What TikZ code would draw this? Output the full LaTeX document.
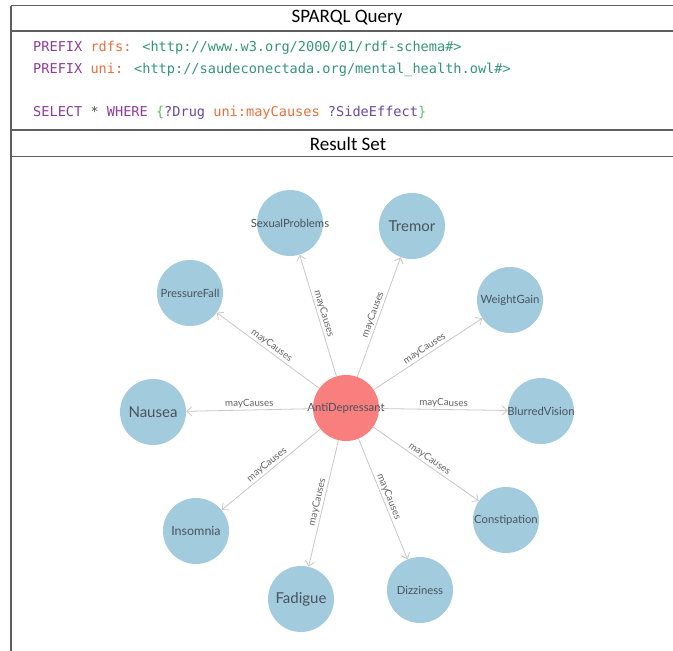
\documentclass[tikz,border=0pt]{standalone}
\usepackage{fontspec}
\setmainfont{Lato}
\newfontfamily\hdrfont{Carlito}
\newfontfamily\codefont{DejaVu Sans Mono}
\usetikzlibrary{arrows.meta}
\definecolor{kwpurple}{RGB}{140,60,150}
\definecolor{pforange}{RGB}{232,112,62}
\definecolor{urlgreen}{RGB}{52,150,118}
\definecolor{bracegreen}{RGB}{95,190,95}
\definecolor{varpurple}{RGB}{105,72,165}
\definecolor{stargray}{RGB}{80,80,80}
\definecolor{framegray}{RGB}{95,95,95}
\definecolor{nodeblue}{RGB}{163,203,222}
\definecolor{nodered}{RGB}{249,127,127}
\definecolor{nodetext}{RGB}{72,82,92}
\definecolor{edgegray}{RGB}{200,200,200}
\definecolor{labelgray}{RGB}{100,100,100}
\newcommand{\ctxt}[1]{\makebox[0pt][c]{#1}}
\tikzset{
  frameline/.style={draw=framegray, line width=1.3pt},
  hdrtext/.style={font=\hdrfont\fontsize{19}{22}\selectfont, text=black, inner sep=0pt},
  codeline/.style={font=\codefont\fontsize{13.6}{16}\selectfont, anchor=base west, inner sep=0pt},
  fx/.style={circle, fill=nodeblue, minimum size=66pt, inner sep=0pt, text=nodetext, font=\fontsize{11.3}{13}\selectfont},
  bigfx/.style={fx, font=\fontsize{15}{18}\selectfont},
  drug/.style={fx, fill=nodered},
  edge/.style={draw=edgegray, line width=0.8pt, -{Straight Barb[length=5pt,width=9pt]}},
  lbl/.style={midway, above, sloped, inner sep=1.5pt, text=labelgray, font=\fontsize{9.8}{11}\selectfont}
}
\begin{document}
\begin{tikzpicture}[x=1pt,y=-1pt]
\useasboundingbox (0,0) rectangle (673,651);
\fill[white] (0,0) rectangle (673,651);
% frame
\draw[frameline] (11,5.5) -- (673,5.5);
\draw[frameline] (11,31) -- (673,31);
\draw[frameline] (11,130) -- (673,130);
\draw[frameline] (11,156.5) -- (673,156.5);
\draw[frameline] (11,5.5) -- (11,651);
% headers
\node[hdrtext] (hq) at (347,18) {SPARQL Query};
\node[hdrtext] (hr) at (348,143.5) {Result Set};
% code
\node[codeline] (c1) at (33,51) {\textcolor{kwpurple}{PREFIX} \textcolor{pforange}{rdfs:} \textcolor{urlgreen}{<http://www.w3.org/2000/01/rdf-schema\#>}};
\node[codeline] (c2) at (33,73) {\textcolor{kwpurple}{PREFIX} \textcolor{pforange}{uni:} \textcolor{urlgreen}{<http://saudeconectada.org/mental\_health.owl\#>}};
\node[codeline] (c3) at (33,116) {\textcolor{kwpurple}{SELECT} \textcolor{stargray}{*} \textcolor{kwpurple}{WHERE} \textcolor{bracegreen}{\{}\textcolor{varpurple}{?Drug} \textcolor{pforange}{uni:mayCauses} \textcolor{varpurple}{?SideEffect}\textcolor{bracegreen}{\}}};
% graph nodes
\node[drug] (ad) at (346,408) {\ctxt{AntiDepressant}};
\node[fx] (sp) at (290,223) {\ctxt{SexualProblems}};
\node[bigfx] (tr) at (412,226) {\ctxt{Tremor}};
\node[fx] (pf) at (190,293) {\ctxt{PressureFall}};
\node[fx] (wg) at (510,300) {\ctxt{WeightGain}};
\node[bigfx] (na) at (153,412) {\ctxt{Nausea}};
\node[fx] (bv) at (541,411) {\ctxt{BlurredVision}};
\node[fx, font=\fontsize{12.5}{15}\selectfont] (in) at (196,531) {\ctxt{Insomnia}};
\node[fx] (co) at (506,520) {\ctxt{Constipation}};
\node[bigfx] (fa) at (301,599) {\ctxt{Fadigue}};
\node[fx] (di) at (420,590) {\ctxt{Dizziness}};
% edges
\draw[edge] (ad) -- node[lbl] {mayCauses} (sp);
\draw[edge] (ad) -- node[lbl] {mayCauses} (tr);
\draw[edge] (ad) -- node[lbl] {mayCauses} (pf);
\draw[edge] (ad) -- node[lbl] {mayCauses} (wg);
\draw[edge] (ad) -- node[lbl] {mayCauses} (na);
\draw[edge] (ad) -- node[lbl] {mayCauses} (bv);
\draw[edge] (ad) -- node[lbl] {mayCauses} (in);
\draw[edge] (ad) -- node[lbl] {mayCauses} (co);
\draw[edge] (ad) -- node[lbl] {mayCauses} (fa);
\draw[edge] (ad) -- node[lbl] {mayCauses} (di);
\end{tikzpicture}
\end{document}
